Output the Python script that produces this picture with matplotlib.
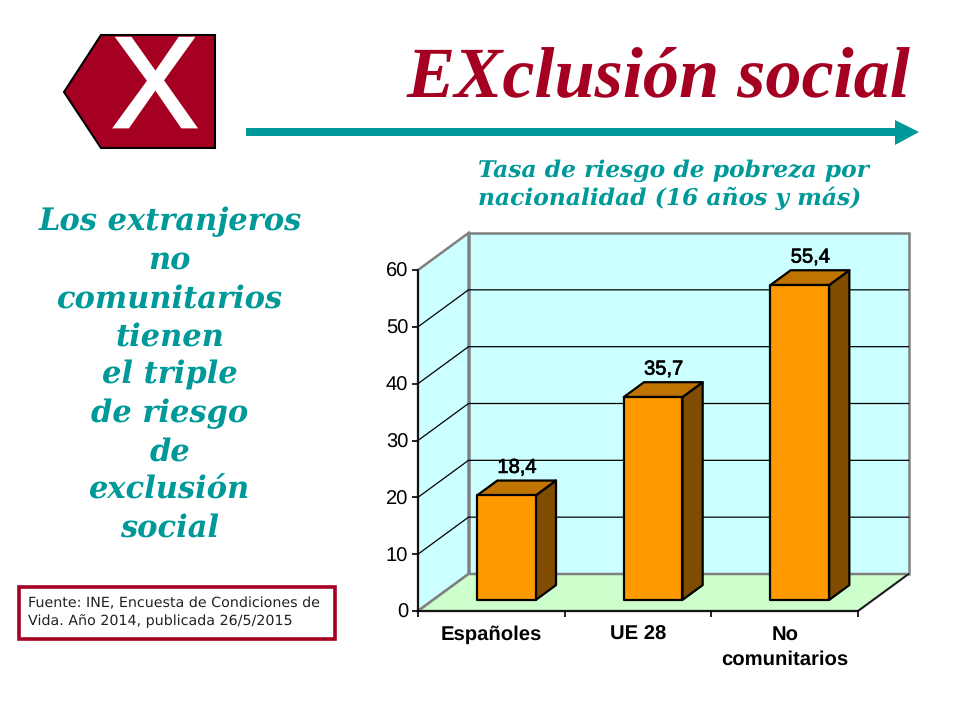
#!/usr/bin/env python3
import matplotlib
matplotlib.use("Agg")
import matplotlib.pyplot as plt
import matplotlib.patheffects as pe
from matplotlib.patches import Polygon, Rectangle

plt.rcParams["text.hinting"] = "no_hinting"

# ---------------- data ----------------
categories = ["Españoles", "UE 28", "No\ncomunitarios"]
values = [18.4, 35.7, 55.4]
value_labels = ["18,4", "35,7", "55,4"]
y_ticks = [0, 10, 20, 30, 40, 50, 60]
side_lines = ["Los extranjeros", "no", "comunitarios", "tienen", "el triple",
              "de riesgo", "de", "exclusión", "social"]
subtitle_lines = ["Tasa de riesgo de pobreza por", "nacionalidad (16 años y más)"]
source_text = "Fuente: INE, Encuesta de Condiciones de\nVida. Año 2014, publicada 26/5/2015"

# ---------------- colours ----------------
RED = "#A50021"
TEAL = "#009999"
WALL = "#CCFFFF"
FLOOR = "#CCFFCC"
BAR = "#FF9900"
BAR_TOP = "#BF7300"
BAR_SIDE = "#7F4C00"
EDGE = "#808080"

W, H = 960, 720
fig = plt.figure(figsize=(W / 100, H / 100), dpi=100, facecolor="white")

# ---------------- slide decoration, in pixel coordinates ----------------
slide = fig.add_axes([0, 0, 1, 1])
slide.set_xlim(0, W)
slide.set_ylim(H, 0)
slide.axis("off")

slide.add_patch(Polygon([(215, 35), (101, 35), (64, 92), (101, 148), (215, 148)],
                        fc=RED, ec="black", lw=1.5))
slide.text(155, 127, "X", color="white", fontsize=93, ha="center", va="baseline",
           family="Liberation Sans",
           path_effects=[pe.withStroke(linewidth=2, foreground="white", joinstyle="miter")])
slide.text(910, 96, "EXclusión social", color=RED, fontsize=52, ha="right", va="baseline",
           family="Liberation Serif", weight="bold", style="italic")

slide.add_patch(Rectangle((246, 128), 650, 8, fc=TEAL, ec="none"))
slide.add_patch(Polygon([(895, 120), (919, 132), (895, 145)], fc=TEAL, ec="none"))

for i, line in enumerate(subtitle_lines):
    slide.text(478, 170.5 + i * 28, line, color=TEAL, fontsize=16.8, ha="left", va="center",
               family="DejaVu Serif", weight="bold", style="italic")

for i, line in enumerate(side_lines):
    slide.text(170, 222 + i * 38.3, line, color=TEAL, fontsize=22, ha="center", va="center",
               family="DejaVu Serif", weight="bold", style="italic")

slide.add_patch(Rectangle((19, 587), 316, 52, fc="white", ec=RED, lw=2.6))
slide.text(28, 612, source_text, color="#222222", fontsize=10.3, ha="left", va="center",
           family="DejaVu Sans", linespacing=1.38)

# ---------------- chart, axes sit on the front plane of the 3D box ----------------
left, right, bottom, top = 418, 858, 611, 270
ax = fig.add_axes([left / W, 1 - bottom / H, (right - left) / W, (bottom - top) / H])
ax.patch.set_visible(False)
ax.set_xlim(0, 3)
ax.set_ylim(0, 60)

x_per_px = 3 / (right - left)
y_per_px = 60 / (bottom - top)
DEPTH_X = 50.5 * x_per_px
DEPTH_Y = 37 * y_per_px


def proj(x, y, d=0.0):
    # oblique projection, d=0 front plane, d=1 back wall
    return (x + d * DEPTH_X, y + d * DEPTH_Y)


def face(points, **kw):
    ax.add_patch(Polygon([proj(*p) for p in points], clip_on=False, **kw))


# walls and floor
face([(0, 0, 1), (3, 0, 1), (3, 60, 1), (0, 60, 1)], fc=WALL, ec=EDGE, lw=1.8, zorder=1)
face([(0, 0, 0), (0, 0, 1), (0, 60, 1), (0, 60, 0)], fc=WALL, ec=EDGE, lw=1.8, zorder=1)
face([(0, 0, 0), (3, 0, 0), (3, 0, 1), (0, 0, 1)], fc=FLOOR, ec=EDGE, lw=1.8, zorder=1)

# grid lines on side and back wall
for v in y_ticks[1:-1]:
    xs, ys = zip(proj(0, v, 0), proj(0, v, 1), proj(3, v, 1))
    ax.plot(xs, ys, color="black", lw=0.9, clip_on=False, zorder=2)

# right edge of the floor
xs, ys = zip(proj(3, 0, 0), proj(3, 0, 1))
ax.plot(xs, ys, color="black", lw=0.9, clip_on=False, zorder=2)

# bars
bar_w = 0.4
d0, d1 = 0.3, 0.7
for i, v in enumerate(values):
    x0, x1 = i + 0.5 - bar_w / 2, i + 0.5 + bar_w / 2
    style = dict(ec="black", lw=1.6, joinstyle="round", zorder=3)
    face([(x1, 0, d0), (x1, 0, d1), (x1, v, d1), (x1, v, d0)], fc=BAR_SIDE, **style)
    face([(x0, v, d0), (x1, v, d0), (x1, v, d1), (x0, v, d1)], fc=BAR_TOP, **style)
    face([(x0, 0, d0), (x1, 0, d0), (x1, v, d0), (x0, v, d0)], fc=BAR, **style)
    lx, ly = proj(i + 0.5, v, d1)
    ax.annotate(value_labels[i], (lx, ly), xytext=(-7, 2.5), textcoords="offset points",
                ha="center", va="bottom", fontsize=14.5, family="Liberation Sans",
                annotation_clip=False, zorder=4,
                path_effects=[pe.withStroke(linewidth=0.5, foreground="black")])

# axes
for name in ("top", "right"):
    ax.spines[name].set_visible(False)
for name in ("left", "bottom"):
    ax.spines[name].set_linewidth(1.2)
    ax.spines[name].set_zorder(5)

ax.set_yticks(y_ticks)
ax.tick_params(axis="y", length=4, width=1.2, pad=3, labelsize=14.5)
ax.set_xticks([0, 1, 2, 3])
ax.set_xticklabels([])
ax.tick_params(axis="x", which="major", length=4, width=1.2)
ax.set_xticks([0.5, 1.5, 2.5], labels=categories, minor=True)
ax.tick_params(axis="x", which="minor", length=0, pad=10, labelsize=14.6)
for lab in ax.get_yticklabels():
    lab.set_family("Liberation Sans")
for lab in ax.get_xticklabels(minor=True):
    lab.set_family("Liberation Sans")
    lab.set_weight("bold")
    lab.set_linespacing(1.45)

fig.savefig("out.png", dpi=100)
